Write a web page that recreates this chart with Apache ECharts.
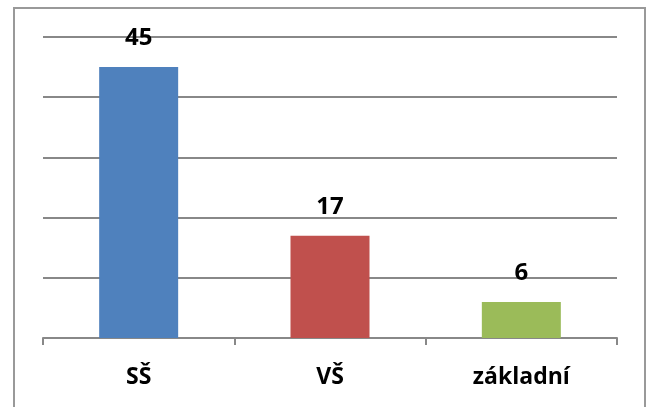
<!DOCTYPE html>
<html>
<head>
<meta charset="utf-8">
<script src="https://cdn.jsdelivr.net/npm/echarts@6/dist/echarts.min.js"></script>
<style>
  html, body { margin: 0; padding: 0; background: #fff; }
  #chart { width: 648px; height: 407px; }
</style>
</head>
<body>
<div id="chart"></div>
<script>
// data
const categories = ['SŠ', 'VŠ', 'základní']
const values = [45, 17, 6]
const barColors = ['#4f81bd', '#c0504d', '#9bbb59']

const chart = echarts.init(document.getElementById('chart'))
chart.setOption({
  animation: false,
  backgroundColor: '#fff',
  graphic: [
    {
      type: 'rect',
      shape: { x: 14, y: 8, width: 631, height: 420 },
      style: { fill: 'none', stroke: '#999', lineWidth: 2 },
      silent: true
    }
  ],
  grid: { left: 43, right: 31, top: 37, bottom: 69 },
  xAxis: {
    type: 'category',
    data: categories,
    axisLine: { lineStyle: { color: '#888', width: 2 } },
    axisTick: { show: true, length: 7, lineStyle: { color: '#888', width: 2 } },
    axisLabel: {
      color: '#000',
      fontFamily: 'Open Sans',
      fontWeight: 'bold',
      fontSize: 23,
      margin: 28
    }
  },
  yAxis: {
    type: 'value',
    min: 0,
    max: 50,
    interval: 10,
    axisLabel: { show: false },
    axisLine: { show: false },
    axisTick: { show: false },
    splitLine: { lineStyle: { color: '#888', width: 2 } }
  },
  series: [
    {
      type: 'bar',
      barWidth: 79,
      data: values.map((v, i) => ({ value: v, itemStyle: { color: barColors[i] } })),
      label: {
        show: true,
        position: 'top',
        distance: 17,
        color: '#000',
        fontFamily: 'Open Sans',
        fontWeight: 'bold',
        fontSize: 24
      }
    }
  ]
})
</script>
</body>
</html>
